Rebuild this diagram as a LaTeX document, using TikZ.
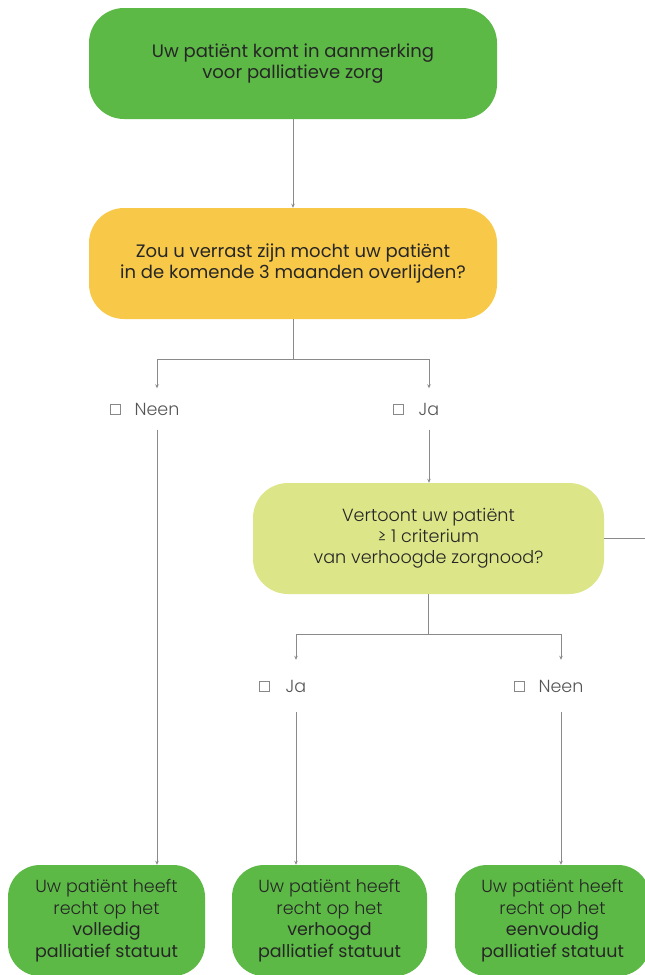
\documentclass[tikz,border=0pt]{standalone}
\usepackage{fontspec}
\setmainfont{Poppins}
\newfontfamily\lightfont{Poppins Light}
\usetikzlibrary{arrows.meta,positioning}
\definecolor{cgreen}{HTML}{5CB946}
\definecolor{cyellow}{HTML}{F8C948}
\definecolor{clime}{HTML}{DCE588}
\definecolor{cline}{HTML}{8A8A8A}
\definecolor{ctext}{HTML}{262626}
\definecolor{clabel}{HTML}{555555}
\begin{document}
\begin{tikzpicture}[x=1pt,y=-1pt,
  box/.style={rounded corners=35pt, minimum width=408pt, minimum height=111pt, align=center, inner sep=0pt, font=\fontsize{18}{21}\selectfont, text=ctext},
  smallbox/.style={rounded corners=32pt, minimum width=196pt, minimum height=111pt, fill=cgreen, align=center, inner sep=0pt, font=\lightfont\fontsize{17.5}{21.5}\selectfont, text=ctext},
  conn/.style={draw=cline, line width=0.8pt},
  arr/.style={conn, -{Stealth[length=4pt,width=3.5pt]}},
  lab/.style={font=\lightfont\fontsize{17.5}{20}\selectfont, text=clabel, inner sep=0pt, text height=12pt, text depth=0pt},
  chk/.style={draw=clabel!70, line width=0.6pt, minimum size=10pt, inner sep=0pt}
]
\useasboundingbox (0,0) rectangle (645,975);
\clip (0,0) rectangle (645,975);

\node[box, fill=cgreen] (b1) at (293,63.5) {Uw patiënt komt in aanmerking\\voor palliatieve zorg};
\node[box, fill=cyellow] (b2) at (293,263.5) {Zou u verrast zijn mocht uw patiënt\\in de komende 3 maanden overlijden?};
\node[box, fill=clime, minimum width=351pt, font=\lightfont\fontsize{17.6}{21}\selectfont] (b3) at (428.5,538.5) {Vertoont uw patiënt\\≥ 1 criterium\\van verhoogde zorgnood?};

\node[lab, minimum height=41pt] (l1) at (157,409) {Neen};
\node[chk, left=14pt of l1] (c1) {};
\node[lab, minimum height=41pt] (l2) at (429,409) {Ja};
\node[chk, left=15pt of l2] (c2) {};
\node[lab, minimum height=52pt] (l3) at (296,686) {Ja};
\node[chk, left=16pt of l3] (c3) {};
\node[lab, minimum height=52pt] (l4) at (561,686) {Neen};
\node[chk, left=14pt of l4] (c4) {};

\node[smallbox, minimum width=197pt] (b4) at (106.5,920.5) {Uw patiënt heeft\\recht op het\\{\rmfamily volledig}\\{\rmfamily palliatief statuut}};
\node[smallbox, minimum width=195pt] (b5) at (329.5,920.5) {Uw patiënt heeft\\recht op het\\{\rmfamily verhoogd}\\{\rmfamily palliatief statuut}};
\node[smallbox, minimum width=195pt] (b6) at (552.5,920.5) {Uw patiënt heeft\\recht op het\\{\rmfamily eenvoudig}\\{\rmfamily palliatief statuut}};

\coordinate (edge) at (645,536);

\draw[arr] (b1.south) -- (b2.north);
\draw[arr] (b2.south) -- ++(0,40) -| (l1.north);
\draw[arr] (b2.south) -- ++(0,40) -| (l2.north);
\draw[arr] (l1.south) -- (l1.south |- b4.north);
\draw[arr] (l2.south) -- (l2.south |- b3.north);
\draw[conn] (b3.east) -- (b3.east -| edge);
\draw[arr] (b3.south) -- ++(0,40) -| (l3.north);
\draw[arr] (b3.south) -- ++(0,40) -| (l4.north);
\draw[arr] (l3.south) -- (l3.south |- b5.north);
\draw[arr] (l4.south) -- (l4.south |- b6.north);
\end{tikzpicture}
\end{document}
